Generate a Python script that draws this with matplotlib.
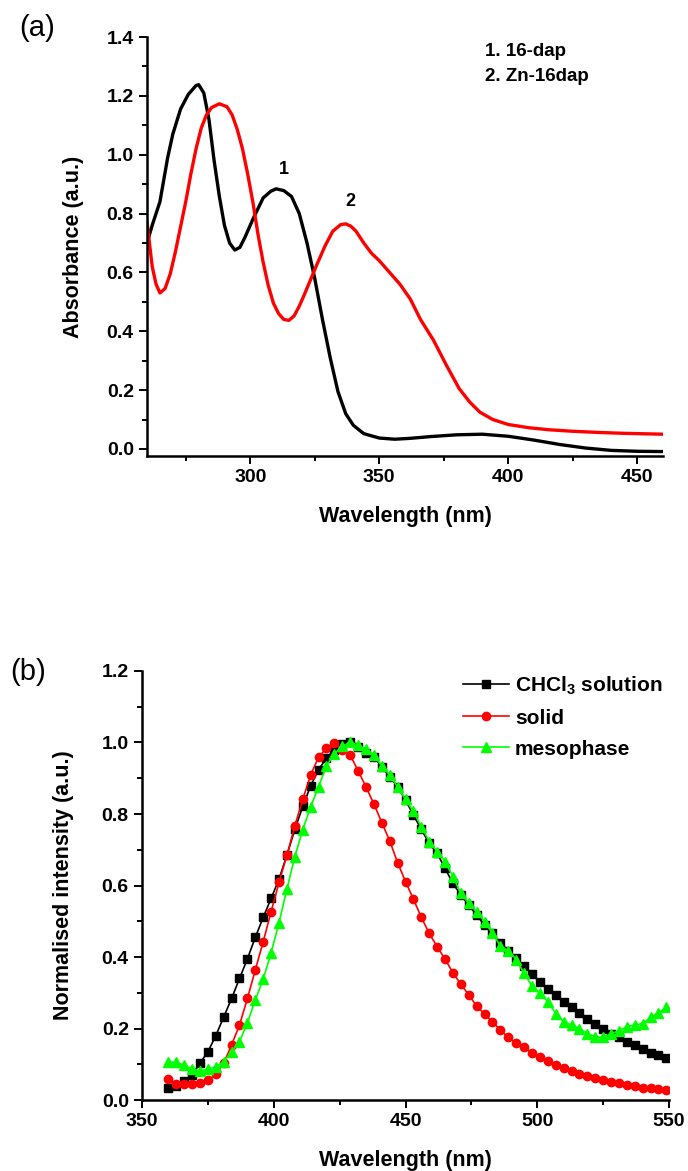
import numpy as np
import matplotlib
matplotlib.use("Agg")
import matplotlib.pyplot as plt
from matplotlib.ticker import MultipleLocator

plt.rcParams['font.family'] = ['Liberation Sans', 'DejaVu Sans']
plt.rcParams['font.weight'] = 'bold'
plt.rcParams['mathtext.fontset'] = 'custom'
plt.rcParams['mathtext.rm'] = 'Liberation Sans:bold'

# (a) absorption spectra
wl_dap = [260, 262, 265, 268, 270, 273, 276, 279, 280, 282, 284, 286, 288, 290,
          292, 294, 296, 298, 301, 305, 308, 310, 313, 316, 319, 322, 325, 328,
          331, 334, 337, 340, 344, 350, 356, 362, 370, 380, 390, 400, 410, 420,
          430, 440, 450, 460]
abs_dap = [0.70, 0.76, 0.84, 0.99, 1.07, 1.155, 1.205, 1.235, 1.238, 1.21, 1.12,
           0.98, 0.86, 0.76, 0.70, 0.676, 0.685, 0.72, 0.78, 0.853, 0.876, 0.884,
           0.878, 0.858, 0.80, 0.70, 0.58, 0.44, 0.31, 0.195, 0.12, 0.08, 0.052,
           0.037, 0.033, 0.036, 0.042, 0.048, 0.05, 0.043, 0.03, 0.015, 0.003,
           -0.005, -0.008, -0.009]

wl_zn = [260, 262, 263.5, 265, 267, 269, 271, 273, 275, 277, 279, 281, 283, 285,
         288, 291, 293, 295, 297, 299, 301, 303, 305, 307, 309, 311, 313, 315,
         317, 319, 321, 323, 326, 329, 332, 335, 337, 339, 341, 344, 347, 350,
         354, 358, 362, 366, 371, 376, 381, 385, 389, 394, 400, 408, 416, 425,
         435, 445, 460]
abs_zn = [0.77, 0.62, 0.56, 0.53, 0.545, 0.595, 0.67, 0.755, 0.84, 0.935, 1.02,
          1.09, 1.135, 1.16, 1.173, 1.163, 1.135, 1.085, 1.02, 0.935, 0.84, 0.73,
          0.635, 0.555, 0.495, 0.46, 0.44, 0.437, 0.452, 0.485, 0.525, 0.567,
          0.63, 0.69, 0.74, 0.762, 0.765, 0.757, 0.74, 0.70, 0.665, 0.64, 0.60,
          0.56, 0.51, 0.44, 0.37, 0.285, 0.205, 0.16, 0.125, 0.10, 0.083, 0.072,
          0.065, 0.06, 0.056, 0.053, 0.05]

# (b) normalised emission, one point every 3 nm from 360 to 549
wl_em = list(range(360, 550, 3))
em_sol = [0.033, 0.039, 0.054, 0.071, 0.103, 0.135, 0.180, 0.232, 0.284, 0.340,
          0.395, 0.455, 0.511, 0.564, 0.618, 0.685, 0.757, 0.821, 0.879, 0.924,
          0.956, 0.980, 0.995, 1.000, 0.988, 0.971, 0.960, 0.932, 0.904, 0.876,
          0.839, 0.797, 0.757, 0.718, 0.690, 0.648, 0.606, 0.573, 0.545, 0.517,
          0.489, 0.468, 0.440, 0.418, 0.396, 0.375, 0.352, 0.331, 0.311, 0.294,
          0.275, 0.259, 0.244, 0.228, 0.214, 0.200, 0.186, 0.175, 0.163, 0.154,
          0.143, 0.132, 0.126, 0.117]
em_solid = [0.058, 0.046, 0.045, 0.044, 0.047, 0.055, 0.072, 0.103, 0.154, 0.210,
            0.284, 0.364, 0.443, 0.527, 0.609, 0.685, 0.767, 0.841, 0.909, 0.959,
            0.984, 0.999, 0.980, 0.965, 0.921, 0.876, 0.828, 0.776, 0.725, 0.664,
            0.611, 0.562, 0.511, 0.466, 0.429, 0.394, 0.356, 0.324, 0.294, 0.263,
            0.241, 0.218, 0.196, 0.175, 0.160, 0.149, 0.132, 0.119, 0.108, 0.098,
            0.089, 0.080, 0.073, 0.067, 0.062, 0.056, 0.051, 0.047, 0.042, 0.038,
            0.035, 0.033, 0.031, 0.028]
em_meso = [0.107, 0.105, 0.098, 0.086, 0.082, 0.086, 0.093, 0.107, 0.135, 0.163,
           0.216, 0.280, 0.338, 0.412, 0.496, 0.590, 0.681, 0.756, 0.820, 0.876,
           0.935, 0.968, 0.990, 1.000, 0.993, 0.981, 0.965, 0.934, 0.909, 0.875,
           0.841, 0.807, 0.765, 0.723, 0.695, 0.667, 0.625, 0.578, 0.550, 0.527,
           0.499, 0.466, 0.431, 0.418, 0.393, 0.354, 0.319, 0.298, 0.275, 0.242,
           0.219, 0.210, 0.200, 0.186, 0.177, 0.175, 0.186, 0.194, 0.205, 0.210,
           0.214, 0.231, 0.244, 0.259]


def style_axes(ax):
    # origin-like look: only left/bottom spines, ticks outwards
    ax.spines['top'].set_visible(False)
    ax.spines['right'].set_visible(False)
    ax.spines['left'].set_linewidth(1.8)
    ax.spines['bottom'].set_linewidth(1.8)
    ax.tick_params(which='major', direction='out', length=6, width=1.4, labelsize=14)
    ax.tick_params(which='minor', direction='out', length=3.5, width=1.4)


fig = plt.figure(figsize=(6.88, 11.71), dpi=100)

ax1 = fig.add_axes([0.2137, 0.6106, 0.75, 0.3578])
ax1.plot(wl_dap, abs_dap, 'k-', linewidth=2.4)
ax1.plot(wl_zn, abs_zn, '-', color='#ff0000', linewidth=2.4)
ax1.set_xlim(260, 460)
ax1.set_ylim(-0.024, 1.4)
ax1.xaxis.set_major_locator(MultipleLocator(50))
ax1.xaxis.set_minor_locator(MultipleLocator(25))
ax1.yaxis.set_minor_locator(MultipleLocator(0.1))
ax1.set_yticks(np.arange(0, 1.41, 0.2))
style_axes(ax1)
ax1.set_xlabel('Wavelength (nm)', fontsize=15.5, fontweight='bold', labelpad=14)
ax1.set_ylabel('Absorbance (a.u.)', fontsize=15.5, fontweight='bold', labelpad=16)
ax1.text(313, 0.95, '1', fontsize=13, fontweight='bold', ha='center', va='center')
ax1.text(339, 0.84, '2', fontsize=13, fontweight='bold', ha='center', va='center')
ax1.text(391, 1.35, '1. 16-dap', fontsize=13.5, fontweight='bold', va='center')
ax1.text(391, 1.265, '2. Zn-16dap', fontsize=13.5, fontweight='bold', va='center')

ax2 = fig.add_axes([0.2064, 0.0606, 0.766, 0.3664])
ax2.plot(wl_em, em_sol, 'k-', marker='s', markersize=5.5, linewidth=1.2,
         label=r'CHCl$_\mathregular{3}$ solution')
ax2.plot(wl_em, em_solid, '-', color='#ff0000', marker='o', markersize=6,
         linewidth=1.2, label='solid')
ax2.plot(wl_em, em_meso, '-', color='#00ff00', marker='^', markersize=6.5,
         linewidth=1.2, label='mesophase')
ax2.set_xlim(350, 550)
ax2.set_ylim(0, 1.2)
ax2.xaxis.set_major_locator(MultipleLocator(50))
ax2.xaxis.set_minor_locator(MultipleLocator(25))
ax2.yaxis.set_major_locator(MultipleLocator(0.2))
ax2.yaxis.set_minor_locator(MultipleLocator(0.1))
style_axes(ax2)
ax2.set_xlabel('Wavelength (nm)', fontsize=15.5, fontweight='bold', labelpad=14)
ax2.set_ylabel('Normalised intensity (a.u.)', fontsize=15.5, fontweight='bold', labelpad=20)
ax2.legend(loc='upper left', bbox_to_anchor=(463 / 688, 1 - 674 / 1171),
           bbox_transform=fig.transFigure, frameon=False, fontsize=15,
           handlelength=2.2, handletextpad=0.3, labelspacing=0.58,
           borderpad=0, borderaxespad=0)

fig.text(37 / 688, 1 - 28 / 1171, '(a)', fontsize=21, fontweight='normal',
         ha='center', va='center')
fig.text(28 / 688, 1 - 672 / 1171, '(b)', fontsize=21, fontweight='normal',
         ha='center', va='center')

fig.savefig('out.png', dpi=100)
